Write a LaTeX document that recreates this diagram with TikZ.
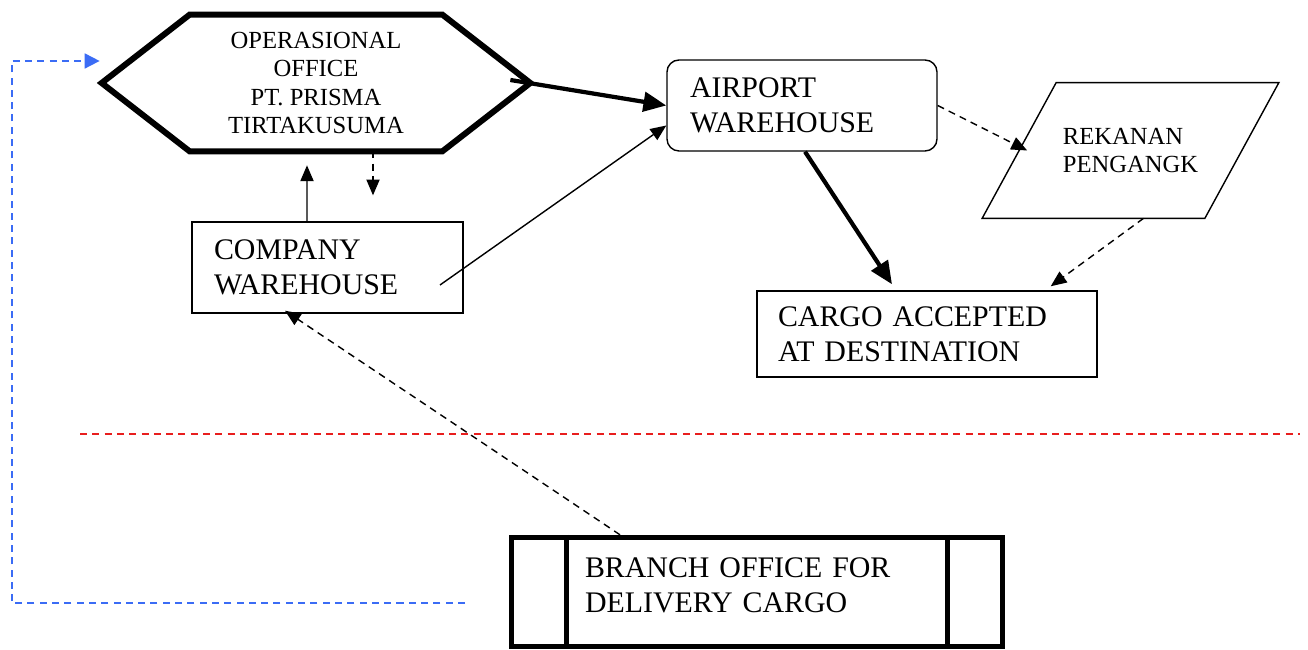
\documentclass[tikz,border=0pt]{standalone}
\usepackage{fontspec}
\setmainfont{Liberation Serif}
\usepackage{tikz}
\usetikzlibrary{arrows.meta, shapes.geometric, calc, positioning}
\definecolor{linkblue}{RGB}{59,108,245}
\definecolor{splitred}{RGB}{232,30,30}

\begin{document}
\begin{tikzpicture}[
    box/.style={draw, line width=0.8pt, align=left, inner ysep=0pt,
                font=\fontsize{17}{20}\selectfont},
    thinarrow/.style={-{Triangle[length=9pt, width=7.5pt]}, line width=0.8pt},
    thickarrow/.style={-{Triangle[length=13pt, width=11pt]}, line width=2.4pt},
    dasharrow/.style={thinarrow, dash pattern=on 4pt off 3pt}]
  \useasboundingbox (0,0) rectangle (26.16,13);
  % Operational office (hexagon)
  \node[font=\fontsize{14}{16}\selectfont, align=center,
        minimum width=8.56cm, minimum height=2.72cm] (ops) at (6.32,11.34)
    {OPERASIONAL\\OFFICE\\PT. PRISMA\\TIRTAKUSUMA};
  \draw[line width=3.4pt] (ops.west) -- ($(ops.north west)+(1.76,0)$)
    -- ($(ops.north east)+(-1.76,0)$) -- (ops.east)
    -- ($(ops.south east)+(-1.76,0)$) -- ($(ops.south west)+(1.76,0)$) -- cycle;
  % Boxes
  \node[box, rounded corners=0.24cm, minimum width=5.4cm, minimum height=1.82cm,
        text width=4.48cm, inner xsep=0.46cm] (airport) at (16.04,10.89)
    {AIRPORT\\WAREHOUSE};
  \node[box, minimum width=5.42cm, minimum height=1.82cm,
        text width=4.54cm, inner xsep=0.44cm] (company) at (6.55,7.65)
    {COMPANY\\WAREHOUSE};
  \node[box, minimum width=6.8cm, minimum height=1.72cm,
        text width=5.96cm, inner xsep=0.42cm] (cargo) at (18.54,6.32)
    {CARGO ACCEPTED\\AT DESTINATION};
  % Partner (parallelogram)
  \node[minimum width=4.44cm, minimum height=2.7cm, align=left,
        font=\fontsize{14}{16}\selectfont] (rekanan) at (22.61,9.99)
    {REKANAN\\PENGANGK};
  \draw[line width=0.8pt] ($(rekanan.south west)+(-0.74,0)$)
    -- ($(rekanan.north west)+(0.74,0)$) -- ($(rekanan.north east)+(0.74,0)$)
    -- ($(rekanan.south east)+(-0.74,0)$) -- cycle;
  % Branch office
  \node[box, line width=2.8pt, minimum width=9.82cm, minimum height=2.19cm,
        text width=6.88cm, inner xsep=1.47cm, text depth=28pt] (branch) at (15.14,1.16)
    {BRANCH OFFICE FOR\\DELIVERY CARGO};
  \draw[line width=2.8pt] ($(branch.north west)+(1.15,0)$) -- ($(branch.south west)+(1.15,0)$);
  \draw[line width=2.8pt] ($(branch.north east)+(-1.15,0)$) -- ($(branch.south east)+(-1.15,0)$);
  % Connectors
  \draw[thickarrow] ($(ops.east)+(-0.4,0.06)$) -- (airport.west);
  \draw[thinarrow] ($(company.center)+(2.25,-0.35)$) -- ($(airport.west)+(0,-0.4)$);
  \draw[thinarrow] ($(company.north)+(-0.41,0)$) -- ($(ops.south)+(-0.18,-0.28)$);
  \coordinate (opsdrop) at ($(ops.south)+(1.14,-0.88)$);
  \draw[dasharrow] ($(ops.south)+(1.14,0)$) -- (opsdrop);
  \draw[thickarrow] ($(airport.south)+(0.06,0)$) -- ($(cargo.north)+(-0.7,0.12)$);
  \draw[dasharrow] (airport.east) -- ($(rekanan.west)+(0.16,0)$);
  \draw[dasharrow] ($(rekanan.south)+(0.26,0)$) -- ($(cargo.north east)+(-0.94,0.08)$);
  \draw[dasharrow] ($(branch.north)+(-2.74,0)$) -- ($(company.south)+(-0.85,0.06)$);
  % Feedback line to the office
  \coordinate (bluestart) at (9.3,0.94);
  \draw[linkblue, line width=1pt, dash pattern=on 4pt off 3pt,
        -{Triangle[length=8.5pt, width=8.5pt]}]
    (bluestart) -| ($(ops.west)+(-1.8,0.44)$) -- ($(ops.west)+(-0.04,0.44)$);
  % Separator
  \draw[splitred, line width=1pt, dash pattern=on 4pt off 3pt] (1.6,4.32) -- (26.0,4.32);
\end{tikzpicture}
\end{document}
